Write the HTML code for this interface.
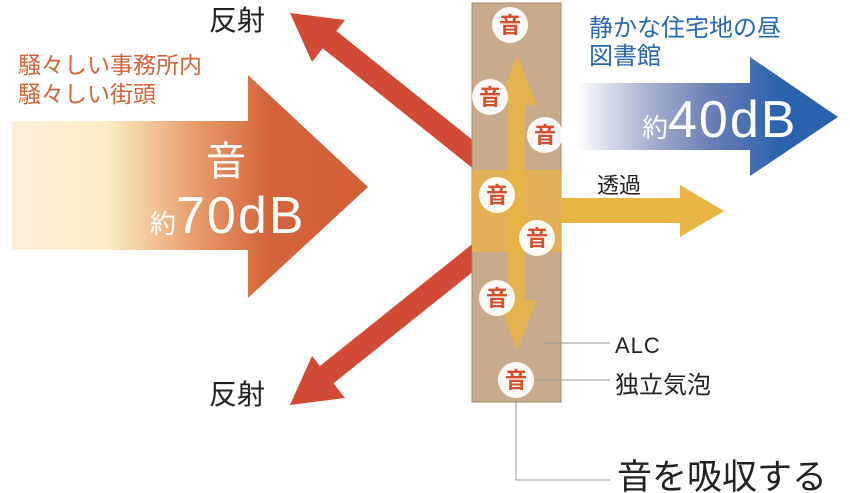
<!DOCTYPE html><html><head><meta charset="utf-8"><style>body{margin:0;background:#fff}svg{display:block}text{font-family:"Liberation Sans","Noto Sans CJK JP",sans-serif}</style></head><body>
<svg width="850" height="493" viewBox="0 0 850 493">
<defs>
<linearGradient id="g1" gradientUnits="userSpaceOnUse" x1="11" x2="370" y1="0" y2="0"><stop offset="0" stop-color="#fdf0dc"/><stop offset="0.27" stop-color="#fdecc4"/><stop offset="0.5" stop-color="#e8a070"/><stop offset="0.72" stop-color="#d4633a"/><stop offset="1" stop-color="#d45e38"/></linearGradient>
<linearGradient id="g2" gradientUnits="userSpaceOnUse" x1="576" x2="780" y1="0" y2="0"><stop offset="0" stop-color="#fff"/><stop offset="0.35" stop-color="#a9b3d0"/><stop offset="0.65" stop-color="#6d7fb5"/><stop offset="1" stop-color="#2a62ae"/></linearGradient>
</defs>
<polygon points="11,121 248,121 248,75 368,187 248,298 248,250 11,250" fill="url(#g1)"/>
<line x1="325" y1="36" x2="480" y2="160" stroke="#d04a35" stroke-width="22"/>
<polygon points="290,13 345,20 312,62" fill="#d04a35"/>
<line x1="325" y1="376" x2="480" y2="252" stroke="#d04a35" stroke-width="22"/>
<polygon points="290,405 345,398 312,356" fill="#d04a35"/>
<rect x="472" y="3" width="89" height="399" fill="#c8ab8d" stroke="#a88a6b" stroke-width="1"/>
<rect x="472" y="170" width="89" height="82" fill="#e6b24e" opacity="0.85"/>
<polygon points="561,198 680,198 680,185 724,211 680,237 680,223 561,223" fill="#e8b444"/>
<polygon points="508,105 498,105 517,55 537,105 525,105 525,300 537,300 517,350 498,300 508,300" fill="#e8b444" opacity="0.85"/>
<g fill="#fff" opacity="0.95">
<circle cx="510" cy="25" r="18"/><circle cx="490" cy="97" r="18"/><circle cx="545" cy="135" r="18"/><circle cx="497" cy="195" r="18"/><circle cx="537" cy="238" r="18"/><circle cx="497" cy="298" r="18"/><circle cx="516" cy="380" r="18"/></g>
<g fill="#d4502f" font-size="22" font-weight="bold" text-anchor="middle">
<text x="510" y="33">音</text><text x="490" y="105">音</text><text x="545" y="143">音</text><text x="497" y="203">音</text><text x="537" y="246">音</text><text x="497" y="306">音</text><text x="516" y="388">音</text></g>
<polygon points="576,83 750,83 750,57 838,117 750,176 750,150 576,150" fill="url(#g2)"/>
<text x="642" y="137" fill="#fff" font-size="26">約<tspan font-size="52" letter-spacing="2">40dB</tspan></text>
<text x="226" y="175" fill="#fff" font-size="40" text-anchor="middle">音</text>
<text x="150" y="233" fill="#fff" font-size="26">約<tspan font-size="52" letter-spacing="2">70dB</tspan></text>
<g font-size="28" fill="#222"><text x="209" y="30">反射</text><text x="209" y="404">反射</text></g>
<g font-size="23" fill="#d4643a"><text x="18" y="73">騒々しい事務所内</text><text x="18" y="102">騒々しい街頭</text></g>
<g font-size="24" fill="#2a67b5"><text x="589" y="36">静かな住宅地の昼</text><text x="589" y="64">図書館</text></g>
<text x="597" y="193" font-size="22" fill="#222">透過</text>
<text x="615" y="353" font-size="22" fill="#222" letter-spacing="1">ALC</text>
<text x="615" y="393" font-size="24" fill="#222">独立気泡</text>
<text x="617" y="489" font-size="35" fill="#222">音を吸収する</text>
<g stroke="#999" stroke-width="1" fill="none"><line x1="545" y1="343" x2="610" y2="343"/><line x1="535" y1="380" x2="610" y2="380"/><polyline points="516,400 516,480 610,480"/></g>
</svg></body></html>
